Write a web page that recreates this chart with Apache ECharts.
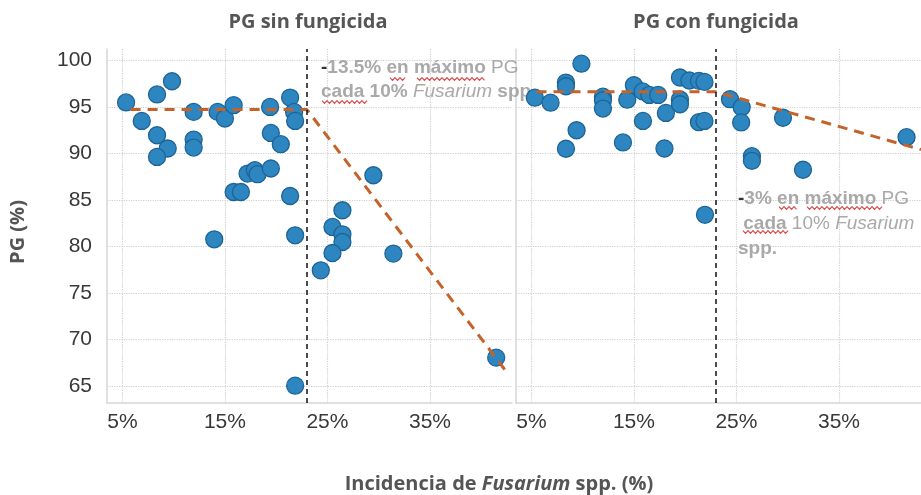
<!DOCTYPE html>
<html>
<head>
<meta charset="utf-8">
<script src="https://cdn.jsdelivr.net/npm/echarts@6/dist/echarts.min.js"></script>
<style>
html,body{margin:0;padding:0;background:#fff;}
#chart{width:921px;height:495px;}
</style>
</head>
<body>
<div id="chart"></div>
<script>
// ---- data ----
const panelTitles = ['PG sin fungicida', 'PG con fungicida'];
const xTicks = [5, 15, 25, 35];
const yTicks = [65, 70, 75, 80, 85, 90, 95, 100];

// PG sin fungicida
const sinX = [5.36, 6.89, 8.38, 9.84, 8.38, 9.42, 8.38, 11.95, 11.95, 11.95, 14.29, 15.0, 15.85, 19.41, 19.48, 20.45, 21.36, 21.75, 21.85,
              17.21, 17.92, 18.18, 19.48, 15.85, 16.56, 21.36, 13.96, 21.85, 21.85, 29.48, 26.46, 25.49, 26.46, 26.46, 25.49, 24.35, 31.43, 41.46];
const sinY = [95.46, 93.48, 96.32, 97.74, 91.94, 90.52, 89.61, 94.45, 91.48, 90.62, 94.45, 93.74, 95.17, 94.98, 92.19, 90.98, 95.99, 94.45, 93.48,
              87.83, 88.19, 87.76, 88.37, 85.85, 85.85, 85.42, 80.77, 81.2, 65.06, 87.65, 83.89, 82.1, 81.31, 80.48, 79.3, 77.44, 79.24, 68.07];

// PG con fungicida
const conX = [5.34, 6.87, 8.37, 8.37, 9.88, 9.41, 8.37, 11.98, 11.98, 11.98, 13.93, 14.35, 15.0, 15.85, 16.51, 17.37, 15.88, 17.98,
              18.12, 19.49, 20.41, 21.34, 21.88, 19.49, 19.49, 21.34, 21.88, 21.93, 24.37, 25.51, 25.46, 29.54, 26.51, 26.51, 31.49, 41.59];
const conY = [95.97, 95.44, 97.6, 97.2, 99.62, 92.48, 90.49, 96.08, 95.7, 94.81, 91.17, 95.76, 97.31, 96.65, 96.27, 96.27, 93.48, 90.52,
              94.34, 98.14, 97.82, 97.78, 97.67, 95.78, 95.27, 93.34, 93.48, 83.4, 95.81, 94.95, 93.32, 93.82, 89.69, 89.2, 88.24, 91.73];

// segmented regression lines
const sinTrendX = [5.8, 23, 42.7];
const sinTrendY = [94.7, 94.7, 66.2];
const conTrendX = [5.5, 23, 43];
const conTrendY = [96.6, 96.6, 90.4];
const breakPoints = [23, 23];

const zip = (a, b) => a.map((v, i) => [v, b[i]]);

const chart = echarts.init(document.getElementById('chart'), null, {renderer: 'canvas'});

const gridLine = {show: true, lineStyle: {color: '#cfcfcf', type: 'dotted', width: 1.2}};
const axisLineStyle = {show: true, lineStyle: {color: '#d6d6d6', width: 1.5}};
const tickFont = {fontFamily: 'Liberation Sans, Arial, sans-serif', fontSize: 21, color: '#383838'};

function xAxisCfg(idx) {
  return {
    type: 'value', gridIndex: idx, min: 3.5, max: 43,
    axisLine: axisLineStyle,
    axisTick: {show: false, customValues: xTicks},
    axisLabel: Object.assign({customValues: xTicks, formatter: v => v + '%', margin: 9}, tickFont),
    splitLine: gridLine
  };
}
function yAxisCfg(idx, showLabels) {
  return {
    type: 'value', gridIndex: idx, min: 63.2, max: 101.2,
    axisLine: axisLineStyle,
    axisTick: {show: false, customValues: yTicks},
    axisLabel: Object.assign({show: showLabels, customValues: yTicks, margin: 15}, tickFont),
    splitLine: gridLine
  };
}

const pointStyle = {color: '#2E86C1', borderColor: '#1D6496', borderWidth: 1.3, opacity: 1};
const trendStyle = {color: '#C4622A', width: 3, type: [10, 7]};
const vline = (data) => ({
  silent: true, symbol: 'none', label: {show: false},
  lineStyle: {color: '#111', type: [5, 4], width: 1.5},
  data: [{xAxis: data}]
});

// red spell-check squiggles under annotation words
function squiggle(x0, x1, y) {
  const pts = [];
  let up = true;
  for (let x = x0; x <= x1; x += 2.5) { pts.push([x, y + (up ? -1.3 : 1.3)]); up = !up; }
  return {type: 'polyline', z: 1, silent: true, shape: {points: pts}, style: {stroke: '#dc4a4a', lineWidth: 1.2, fill: null}};
}

const boldA = 'bold 19px "Liberation Sans", Arial, sans-serif';
const normA = '19px "Liberation Sans", Arial, sans-serif';
const italA = 'italic 19px "Liberation Sans", Arial, sans-serif';
const annoRich = (lh) => ({
  k: {font: boldA, fill: '#333', lineHeight: lh},
  b: {font: boldA, fill: '#a9a9a9', lineHeight: lh},
  n: {font: normA, fill: '#a9a9a9', lineHeight: lh},
  i: {font: italA, fill: '#a9a9a9', lineHeight: lh}
});
const titleFont = 'bold 20px "Open Sans", "Noto Sans", sans-serif';

const option = {
  animation: false,
  backgroundColor: '#ffffff',
  grid: [
    {left: 107, top: 49, width: 405, height: 354},
    {left: 516, top: 49, width: 405, height: 354}
  ],
  xAxis: [xAxisCfg(0), xAxisCfg(1)],
  yAxis: [yAxisCfg(0, true), yAxisCfg(1, false)],
  series: [
    {type: 'scatter', xAxisIndex: 0, yAxisIndex: 0, symbolSize: 17, itemStyle: pointStyle, data: zip(sinX, sinY), z: 2},
    {type: 'scatter', xAxisIndex: 1, yAxisIndex: 1, symbolSize: 17, itemStyle: pointStyle, data: zip(conX, conY), z: 2},
    {type: 'line', xAxisIndex: 0, yAxisIndex: 0, symbol: 'none', lineStyle: trendStyle, data: zip(sinTrendX, sinTrendY), z: 3,
     markLine: vline(breakPoints[0])},
    {type: 'line', xAxisIndex: 1, yAxisIndex: 1, symbol: 'none', lineStyle: trendStyle, data: zip(conTrendX, conTrendY), z: 3,
     markLine: vline(breakPoints[1])}
  ],
  graphic: [
    {type: 'text', x: 308, y: 22, style: {text: panelTitles[0], textAlign: 'center', textVerticalAlign: 'middle', font: titleFont, fill: '#555'}},
    {type: 'text', x: 716, y: 22, style: {text: panelTitles[1], textAlign: 'center', textVerticalAlign: 'middle', font: titleFont, fill: '#555'}},
    {type: 'text', x: 18, y: 232, rotation: Math.PI / 2, style: {text: 'PG (%)', textAlign: 'center', textVerticalAlign: 'middle', font: titleFont, fill: '#555'}},
    {type: 'text', x: 499, y: 484, style: {
      text: '{b|Incidencia de }{i|Fusarium}{b| spp. (%)}', textAlign: 'center', textVerticalAlign: 'middle',
      rich: {
        b: {font: titleFont, fill: '#555'},
        i: {font: 'italic ' + titleFont, fill: '#555'}
      }}},
    // annotation left
    {type: 'text', x: 321, y: 56, z: 1, style: {
      text: '{k|-}{b|13.5% en máximo}{n| PG}\n{b|cada 10%}{i| Fusarium}{b| spp.}',
      textVerticalAlign: 'top', lineHeight: 24, rich: annoRich(24)}},
    // annotation right
    {type: 'text', x: 738, y: 186, z: 1, style: {
      text: '{k|-}{b|3% en máximo}{n| PG}\n{n| }{b|cada }{n|10% }{i|Fusarium}\n{b|spp.}',
      textVerticalAlign: 'top', lineHeight: 25, rich: annoRich(25)}},
    squiggle(390, 406, 79), squiggle(417, 485, 79), squiggle(322, 368, 102),
    squiggle(779, 797, 208), squiggle(807, 882, 208), squiggle(743, 790, 232)
  ]
};
chart.setOption(option);
</script>
</body>
</html>
